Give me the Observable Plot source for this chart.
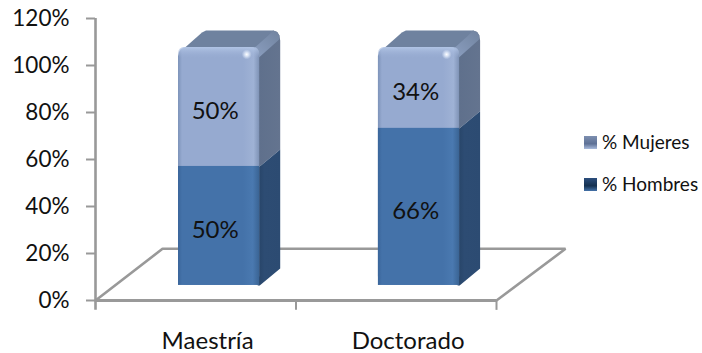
<!DOCTYPE html>
<html>
<head>
<meta charset="utf-8">
<script src="https://cdn.jsdelivr.net/npm/d3@7"></script>
<script src="https://cdn.jsdelivr.net/npm/@observablehq/plot@0.6"></script>
<style>
html,body{margin:0;background:#fff}
#wrap{position:relative;width:702px;height:353px;overflow:hidden;font-family:Lato,sans-serif}
.lg{position:absolute;left:584px;display:flex;align-items:center;font-size:19px;line-height:22px;color:#111;white-space:nowrap}
.lg i{display:block;width:13px;height:13px;margin-right:5px}
</style>
</head>
<body>
<div id="wrap"></div>
<script>
const categories = ["Maestría", "Doctorado"];
const hombres = [50, 66];
const mujeres = [50, 34];
const yTicks = [0, 20, 40, 60, 80, 100, 120];
const legendLabels = ["% Mujeres", "% Hombres"];

// oblique projection of the 3D chart, in data units
const pxX = 200.5, pxY = 2.35;
const px = v => v / pxX, py = v => v / pxY;
const depthX = px(20.5), depthY = py(17);
const base = 6.4, k = 1.013;
const barLeft = 0.414, barW = 0.405;
const f = v => base + v * k;

const rows = categories.map((c, i) => ({
  c, i, h: hombres[i], m: mujeres[i],
  x1: i + barLeft + (i ? -0.003 : 0), x2: i + barLeft + barW + (i ? -0.003 : 0),
}));

function poly(pts, fill, extra = {}) {
  return Plot.line(pts, {x: "x", y: "y", fill, stroke: "none", curve: "linear", ...extra});
}
const floorPts = [{x: 0, y: 0}, {x: px(67), y: 22}, {x: 2 + px(69), y: 22}, {x: 2, y: 0}];

const defs = () => {
  const ns = "http://www.w3.org/2000/svg";
  const d = document.createElementNS(ns, "defs");
  d.innerHTML = `
  <linearGradient id="gM"><stop offset="0" stop-color="#7d93b9"/><stop offset=".05" stop-color="#96aad0"/><stop offset=".8" stop-color="#96aad0"/><stop offset=".93" stop-color="#9fb2d5"/><stop offset="1" stop-color="#7f93b6"/></linearGradient>
  <linearGradient id="gH"><stop offset="0" stop-color="#3a659a"/><stop offset=".05" stop-color="#4472a9"/><stop offset=".8" stop-color="#4472a9"/><stop offset=".92" stop-color="#4a79b0"/><stop offset="1" stop-color="#3a6494"/></linearGradient>
  <linearGradient id="gTop" x1="0" x2="0" y1="0" y2="1"><stop offset="0" stop-color="#b5c8e8" stop-opacity=".9"/><stop offset="1" stop-color="#96aad0" stop-opacity="0"/></linearGradient>
  <linearGradient id="gS"><stop offset="0" stop-color="#55677f"/><stop offset=".3" stop-color="#5f708c"/><stop offset="1" stop-color="#64748f"/></linearGradient>
  <linearGradient id="gSH"><stop offset="0" stop-color="#274467"/><stop offset=".3" stop-color="#2d4c73"/><stop offset="1" stop-color="#2c4b72"/></linearGradient>
  <linearGradient id="gBev" x1="0" x2="1" y1="1" y2="0"><stop offset="0" stop-color="#8fa3c5"/><stop offset="1" stop-color="#71839f"/></linearGradient>
  <radialGradient id="gSpot"><stop offset="0" stop-color="#fff"/><stop offset=".4" stop-color="#e6eefb" stop-opacity=".8"/><stop offset="1" stop-color="#dbe6f8" stop-opacity="0"/></radialGradient>`;
  return d;
};

const T = f(100);
const sideMarks = rows.flatMap(r => [
  // mujeres side, with the rounded back corner
  poly([
    {x: r.x2 - px(2), y: f(r.h)}, {x: r.x2, y: f(r.h)}, {x: r.x2 + depthX, y: f(r.h) + depthY},
    {x: r.x2 + depthX, y: T + depthY - py(10)}, {x: r.x2 + depthX - px(0.8), y: T + depthY - py(5)},
    {x: r.x2 + depthX - px(3), y: T + depthY - py(1.5)}, {x: r.x2 + depthX - px(7), y: T + depthY},
    {x: r.x2 - px(10), y: T}, {x: r.x2 - px(2), y: T - py(8)},
  ], "url(#gS)"),
  // hombres side
  poly([
    {x: r.x2 - px(2), y: f(0)}, {x: r.x2, y: f(0)}, {x: r.x2 + depthX, y: f(0) + depthY},
    {x: r.x2 + depthX, y: f(r.h) + depthY}, {x: r.x2, y: f(r.h)}, {x: r.x2 - px(2), y: f(r.h)},
  ], "url(#gSH)"),
  // bevel along the right edge of the top
  poly([
    {x: r.x2 - px(12), y: T - py(4)}, {x: r.x2 + depthX - px(7), y: T + depthY},
    {x: r.x2 + depthX - px(3), y: T + depthY - py(1.5)}, {x: r.x2 + depthX - px(0.8), y: T + depthY - py(5)},
    {x: r.x2 + depthX - px(1), y: T + depthY - py(9)}, {x: r.x2 - px(3), y: T - py(12)},
  ], "url(#gBev)"),
  // top face
  poly([
    {x: r.x1 + px(2), y: T - py(4)}, {x: r.x1 + depthX + px(3), y: T + depthY - py(2)},
    {x: r.x1 + depthX + px(7), y: T + depthY}, {x: r.x2 + depthX - px(7), y: T + depthY},
    {x: r.x2 + depthX - px(13), y: T + depthY - py(6)}, {x: r.x2 - px(8), y: T - py(3)},
  ], "#6f829f"),
]);

const plot = Plot.plot({
  width: 580, height: 353,
  marginLeft: 95, marginRight: 84, marginTop: 18, marginBottom: 53,
  style: {fontFamily: "Lato, sans-serif", background: "transparent", overflow: "visible"},
  x: {type: "linear", domain: [0, 2], range: [95, 496]},
  y: {domain: [0, 120], range: [300, 18]},
  marks: [
    defs,
    Plot.line(floorPts, {x: "x", y: "y", stroke: "#999", strokeWidth: 2.6, strokeLinejoin: "miter"}),
    Plot.ruleY([0], {x1: 0, x2: 2, stroke: "#999", strokeWidth: 3}),
    Plot.ruleX([0], {y1: -4.2, y2: 120, stroke: "#999", strokeWidth: 2.6}),
    Plot.ruleX([1, 2], {y1: -4.2, y2: 0, stroke: "#999", strokeWidth: 2}),
    Plot.axisY({ticks: yTicks, label: null, tickFormat: d => d + "%", tickSize: 9, tickPadding: 17, fontSize: 22.5, fill: "#111", stroke: "#999", strokeWidth: 2}),
    Plot.axisX({ticks: categories.map((c, i) => i + 0.559), label: null, tickFormat: d => categories[Math.floor(d)], tickSize: 0, tickPadding: 31, fontSize: 24, fill: "#111"}),
    ...sideMarks,
    Plot.rect(rows, {x1: "x1", x2: "x2", y1: f(0), y2: T, fill: "url(#gM)", r: 9}),
    Plot.rect(rows, {x1: "x1", x2: "x2", y1: T - py(12), y2: T, fill: "url(#gTop)", r: 9}),
    Plot.rect(rows, {x1: "x1", x2: "x2", y1: f(0), y2: d => f(d.h), fill: "url(#gH)"}),
    Plot.dot(rows, {x: d => d.x2 - px(13), y: T - py(7), r: 5, fill: "url(#gSpot)"}),
    Plot.text(rows, {x: d => d.i + 0.597, y: d => f(d.h / 2), dy: 4, text: d => d.h + "%", fontSize: 24, fill: "#111"}),
    Plot.text(rows, {x: d => d.i + 0.597, y: d => f(d.h + d.m / 2), dy: 4, text: d => d.m + "%", fontSize: 24, fill: "#111"}),
  ],
});
const wrap = document.getElementById("wrap");
wrap.appendChild(plot);
[["#7d8fb0", "#5e7196", "#a9bbdd", 131], ["#2c4e7d", "#14304f", "#4472a9", 173]].forEach(([a, b, c, top], i) => {
  const el = document.createElement("div");
  el.className = "lg";
  el.style.top = top + "px";
  el.innerHTML = `<i style="background:linear-gradient(to bottom,${a},${b} 60%,${c})"></i><span>${legendLabels[i]}</span>`;
  wrap.appendChild(el);
});
</script>
</body>
</html>
